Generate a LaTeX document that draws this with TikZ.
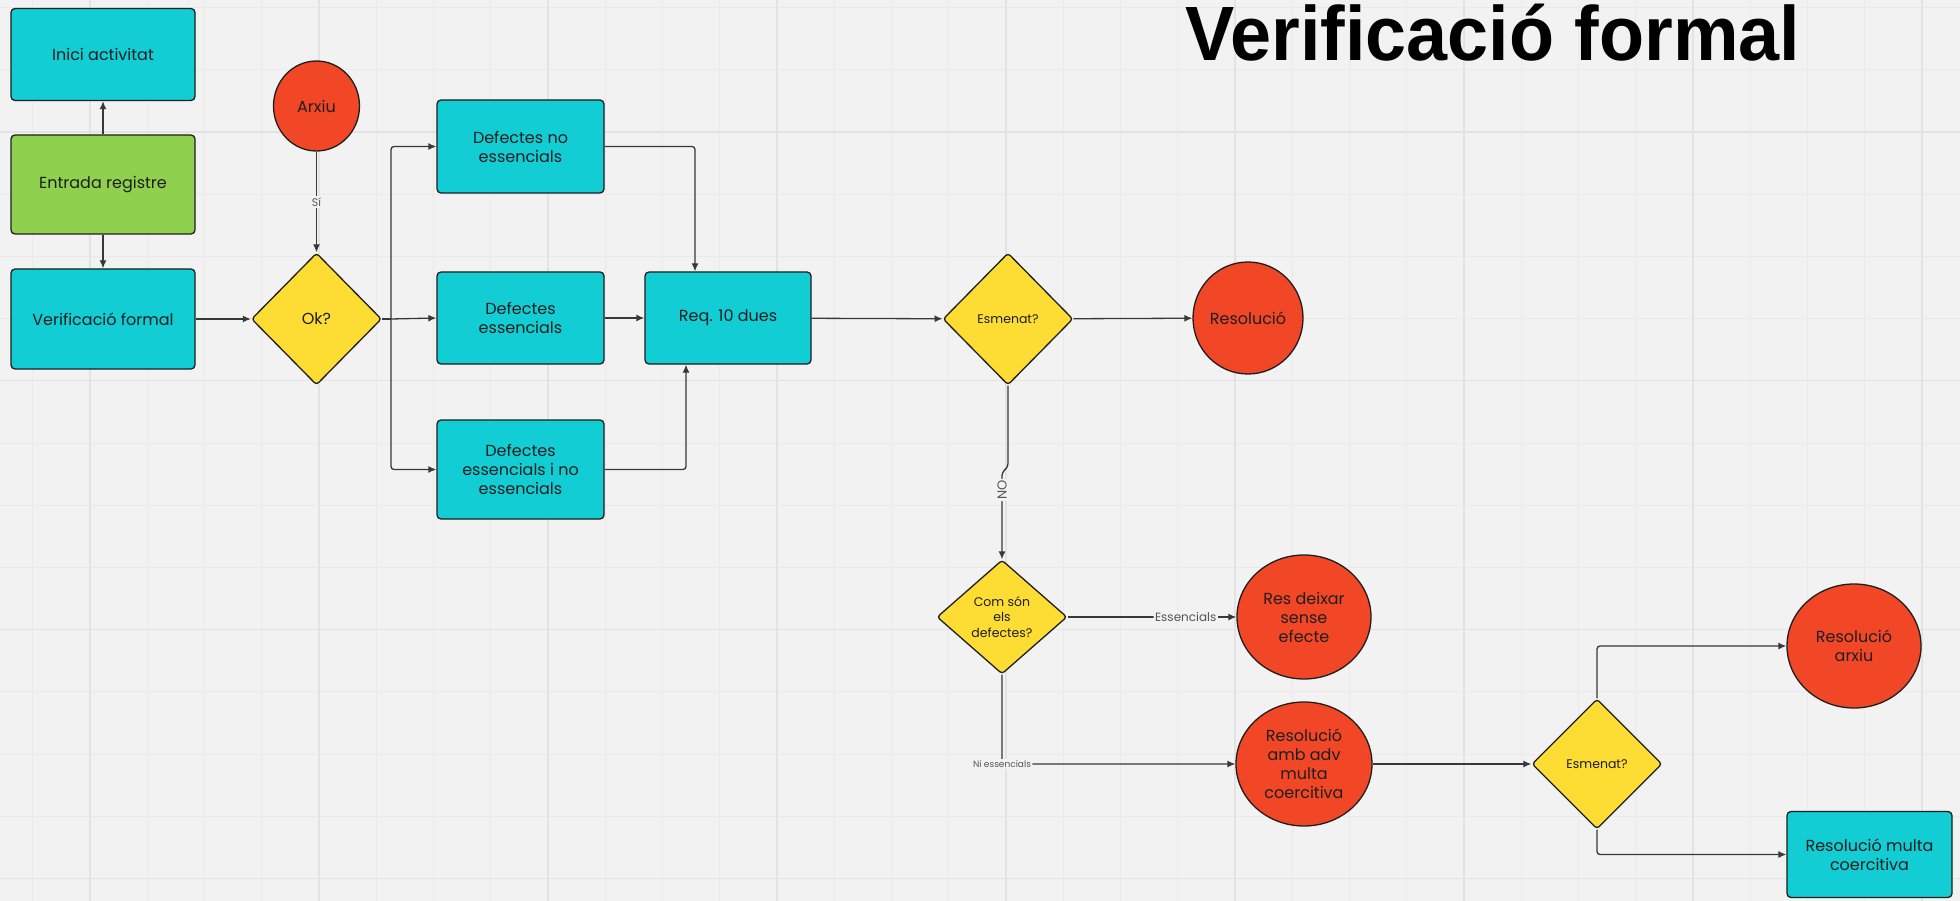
\documentclass[tikz,border=0pt]{standalone}
\usepackage{fontspec}
\usepackage{graphicx}
\setmainfont{Poppins}
\newfontfamily\titlefont{Liberation Sans}
\usetikzlibrary{shapes.geometric,arrows.meta}
\definecolor{bg}{HTML}{F2F2F2}
\definecolor{gridminor}{HTML}{EAEAEA}
\definecolor{gridmajor}{HTML}{E3E3E3}
\definecolor{cyanfill}{HTML}{12CDD4}
\definecolor{greenfill}{HTML}{8FD14F}
\definecolor{redfill}{HTML}{F24726}
\definecolor{yellowfill}{HTML}{FDDC33}
\definecolor{ink}{HTML}{1E1E1E}
\definecolor{wire}{HTML}{383838}
\definecolor{labelgray}{HTML}{555555}
\tikzset{
  box/.style={rectangle, rounded corners=4pt, draw=ink, line width=1.3pt, fill=cyanfill, align=center, inner sep=2pt, font=\fontsize{16}{19}\selectfont, text=ink},
  circ/.style={ellipse, draw=ink, line width=1.3pt, fill=redfill, align=center, inner sep=0pt, font=\fontsize{16}{19}\selectfont, text=ink},
  dec/.style={diamond, draw=ink, line width=1.3pt, fill=yellowfill, rounded corners=3pt, align=center, inner sep=0pt, text=ink, font=\fontsize{16}{19}\selectfont},
  smalltext/.style={font=\fontsize{12.5}{15.5}\selectfont},
  conn/.style={draw=wire, line width=1.3pt, -{Latex[length=8pt,width=7pt]}, rounded corners=3pt},
  plainwire/.style={draw=wire, line width=1.3pt},
  elabel/.style={fill=bg, inner sep=1.5pt, text=labelgray, font=\fontsize{12}{14}\selectfont},
}
\begin{document}
\begin{tikzpicture}[x=1pt,y=-1pt]
\fill[bg] (0,0) rectangle (1960,901);
\useasboundingbox (0,0) rectangle (1960,901);
% grid
\foreach \k in {-1,...,32} { \draw[gridminor, line width=1pt] ({90+57.25*\k},0) -- ({90+57.25*\k},901); }
\foreach \k in {-2,...,12} { \draw[gridminor, line width=1pt] (0,{132+62.2*\k}) -- (1960,{132+62.2*\k}); }
\foreach \k in {0,4,...,32} { \draw[gridmajor, line width=1.3pt] ({90+57.25*\k},0) -- ({90+57.25*\k},901); }
\foreach \k in {0,4,8,12} { \draw[gridmajor, line width=1.3pt] (0,{132+62.2*\k}) -- (1960,{132+62.2*\k}); }

% title
\node[anchor=base west, font=\titlefont\bfseries\fontsize{77}{84}\selectfont, inner sep=0pt] (title) at (1185,61) {\scalebox{0.958}[1]{Verificació formal}};

% nodes
\node[box, minimum width=184pt, minimum height=92pt] (inici) at (103,54.5) {Inici activitat};
\node[box, fill=greenfill, minimum width=184pt, minimum height=99pt] (entrada) at (103,184.5) {Entrada registre};
\node[box, minimum width=184pt, minimum height=100pt] (verif) at (103,319) {Verificació formal};
\node[circ, minimum width=86pt, minimum height=90pt] (arxiu) at (316.5,106) {Arxiu};
\node[dec, minimum width=130pt, minimum height=132pt] (ok) at (316.5,319) {Ok?};
\node[box, minimum width=167pt, minimum height=93pt] (dne) at (520.5,146.5) {Defectes no\\essencials};
\node[box, minimum width=167pt, minimum height=92pt] (de) at (520.5,318) {Defectes\\essencials};
\node[box, minimum width=167pt, minimum height=99pt] (deine) at (520.5,469.5) {Defectes\\essencials i no\\essencials};
\node[box, minimum width=166pt, minimum height=92pt] (req) at (728,318) {Req. 10 dues};
\node[dec, smalltext, minimum width=130pt, minimum height=132pt] (esm1) at (1008,319) {Esmenat?};
\node[circ, minimum width=110pt, minimum height=112pt] (resol) at (1248,318) {Resolució};
\node[dec, smalltext, minimum width=130pt, minimum height=114pt] (com) at (1002,617) {Com són\\els\\defectes?};
\node[circ, minimum width=134pt, minimum height=124pt] (resdeix) at (1304,617) {Res deixar\\sense\\efecte};
\node[circ, minimum width=136pt, minimum height=124pt] (resadv) at (1304,764) {Resolució\\amb adv\\multa\\coercitiva};
\node[dec, smalltext, minimum width=130pt, minimum height=130pt] (esm2) at (1597,764) {Esmenat?};
\node[circ, minimum width=134pt, minimum height=124pt] (resarx) at (1854,646) {Resolució\\arxiu};
\node[box, minimum width=165pt, minimum height=86pt] (resmulta) at (1869.5,854.5) {Resolució multa\\coercitiva};

% connectors
\draw[conn] (entrada) -- (inici);
\draw[conn] (entrada) -- (verif);
\draw[conn] (verif) -- (ok);
\draw[conn] (arxiu.south) -- node[elabel, font=\fontsize{11}{13}\selectfont]{Sí} (ok.north);
\coordinate (split) at (391,319);
\draw[plainwire] (ok.east) -- (split);
\draw[conn] (split) |- (dne.west);
\draw[conn] (split) -- (de.west);
\draw[conn] (split) |- (deine.west);
\draw[conn] (dne.east) -| ([xshift=-33pt]req.north);
\draw[conn] (de) -- (req);
\draw[conn] (deine.east) -| ([xshift=-42pt]req.south);
\draw[conn] (req) -- (esm1);
\draw[conn] (esm1) -- (resol);
\draw[conn] (esm1.south) -- ++(0,81) -- ++(-6,6) -- node[elabel, rotate=90, pos=0.2, font=\fontsize{13}{15}\selectfont]{NO} (com.north);
\draw[conn] (com.east) -- node[elabel, pos=0.7]{Essencials} (resdeix.west);
\draw[conn] (com.south) |- node[elabel, pos=0.5, font=\fontsize{9}{11}\selectfont]{Ni essencials} (resadv.west);
\draw[conn] (resadv) -- (esm2);
\draw[conn] (esm2.north) |- (resarx.west);
\draw[conn] (esm2.south) |- (resmulta.west);
\end{tikzpicture}
\end{document}
